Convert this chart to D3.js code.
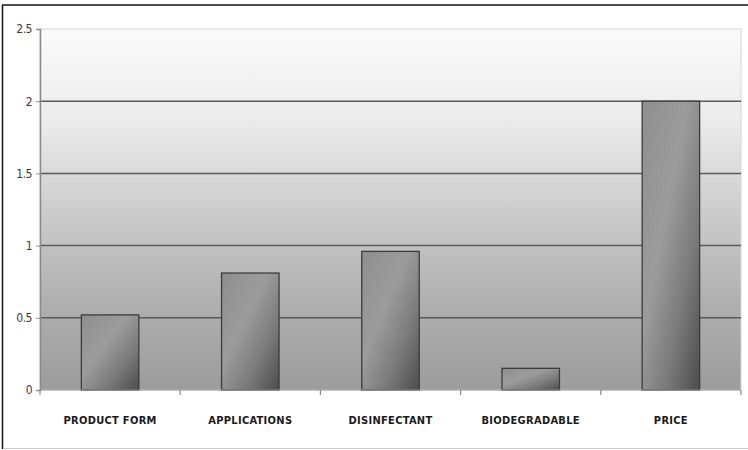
<!DOCTYPE html>
<html>
<head>
<meta charset="utf-8">
<script src="https://cdn.jsdelivr.net/npm/d3@7"></script>
<style>
  html, body { margin: 0; padding: 0; background: #fff; }
  svg { display: block; }
</style>
</head>
<body>
<svg id="chart" width="748" height="450"></svg>
<script>
// Chart data
const categories = ["PRODUCT FORM", "APPLICATIONS", "DISINFECTANT", "BIODEGRADABLE", "PRICE"];
const values = [0.52, 0.81, 0.96, 0.15, 2.0];
const yTicks = [0, 0.5, 1, 1.5, 2, 2.5];

const W = 748, H = 450;
const margin = { left: 40, right: 7, top: 29, bottom: 60 };
const svg = d3.select("#chart");

const x = d3.scaleBand()
  .domain(categories)
  .range([margin.left, W - margin.right])
  .paddingInner(0.59)
  .paddingOuter(0.295);

const y = d3.scaleLinear()
  .domain([0, 2.5])
  .range([H - margin.bottom, margin.top]);

const defs = svg.append("defs");

// plot background: light at top, mid grey at bottom
const bg = defs.append("linearGradient")
  .attr("id", "plotBg").attr("x1", 0).attr("y1", 0).attr("x2", 0).attr("y2", 1);
[["0%", "#fbfbfb"], ["25%", "#ececec"], ["50%", "#cdcdcd"], ["75%", "#b0b0b0"], ["100%", "#9c9c9c"]]
  .forEach(([o, c]) => bg.append("stop").attr("offset", o).attr("stop-color", c));

// bar fill: diagonal sheen
const bar = defs.append("linearGradient")
  .attr("id", "barFill").attr("x1", 0).attr("y1", 0).attr("x2", 1).attr("y2", 1);
[["0%", "#8e8e8e"], ["40%", "#9c9c9c"], ["70%", "#7a7a7a"], ["100%", "#4c4c4c"]]
  .forEach(([o, c]) => bar.append("stop").attr("offset", o).attr("stop-color", c));

// outer frame
svg.append("line").attr("x1", 2.5).attr("x2", 2.5).attr("y1", 5).attr("y2", 449)
  .attr("stroke", "#111").attr("stroke-width", 1.5);
svg.append("line").attr("x1", 2).attr("x2", W).attr("y1", 5).attr("y2", 5)
  .attr("stroke", "#111").attr("stroke-width", 1.5);
svg.append("line").attr("x1", 3).attr("x2", W).attr("y1", 448.5).attr("y2", 448.5)
  .attr("stroke", "#ccc").attr("stroke-width", 1);

// plot area
svg.append("rect")
  .attr("x", margin.left).attr("y", margin.top)
  .attr("width", W - margin.right - margin.left)
  .attr("height", y(0) - margin.top)
  .attr("fill", "url(#plotBg)")
  .attr("stroke", "#d6d6d6").attr("stroke-width", 1);

// gridlines
svg.append("g").selectAll("line")
  .data(yTicks.filter(d => d > 0 && d < 2.5))
  .join("line")
  .attr("x1", margin.left).attr("x2", W - margin.right)
  .attr("y1", d => y(d)).attr("y2", d => y(d))
  .attr("stroke", "#5a5a5a").attr("stroke-width", 1.5);

// bars
svg.append("g").selectAll("rect")
  .data(categories.map((c, i) => ({ c, v: values[i] })))
  .join("rect")
  .attr("x", d => x(d.c))
  .attr("y", d => y(d.v))
  .attr("width", x.bandwidth())
  .attr("height", d => y(0) - y(d.v))
  .attr("fill", "url(#barFill)")
  .attr("stroke", "#3c3c3c").attr("stroke-width", 1.3);

// y axis
const yAxis = svg.append("g")
  .attr("transform", `translate(${margin.left},0)`)
  .call(d3.axisLeft(y).tickValues(yTicks).tickSize(4).tickPadding(4)
    .tickFormat(d => String(d)));
yAxis.select(".domain").attr("stroke", "#8a8a8a").attr("stroke-width", 1.5);
yAxis.selectAll(".tick line").attr("stroke", "#8a8a8a");
yAxis.selectAll(".tick text")
  .attr("fill", "#3a3a3a")
  .style("font-family", "'DejaVu Sans Condensed', 'Liberation Sans Narrow', sans-serif")
  .style("font-size", "12px")
  .style("letter-spacing", "-0.5px");

// x axis
const xBoundaries = d3.range(categories.length + 1)
  .map(i => margin.left + i * x.step());
const xAxis = svg.append("g");
xAxis.append("line")
  .attr("x1", margin.left).attr("x2", W - margin.right)
  .attr("y1", y(0)).attr("y2", y(0))
  .attr("stroke", "#9a9a9a").attr("stroke-width", 1.2);
xAxis.selectAll("line.tk")
  .data(xBoundaries)
  .join("line").attr("class", "tk")
  .attr("x1", d => d).attr("x2", d => d)
  .attr("y1", y(0)).attr("y2", y(0) + 5)
  .attr("stroke", "#8a8a8a").attr("stroke-width", 1.2);
xAxis.selectAll("text")
  .data(categories)
  .join("text")
  .attr("x", d => x(d) + x.bandwidth() / 2)
  .attr("y", 424)
  .attr("text-anchor", "middle")
  .attr("fill", "#1a1a1a")
  .style("font-family", "'DejaVu Sans Condensed', 'Liberation Sans Narrow', sans-serif")
  .style("font-weight", "bold")
  .style("font-size", "11px")
  .style("letter-spacing", "0.3px")
  .text(d => d);
</script>
</body>
</html>
